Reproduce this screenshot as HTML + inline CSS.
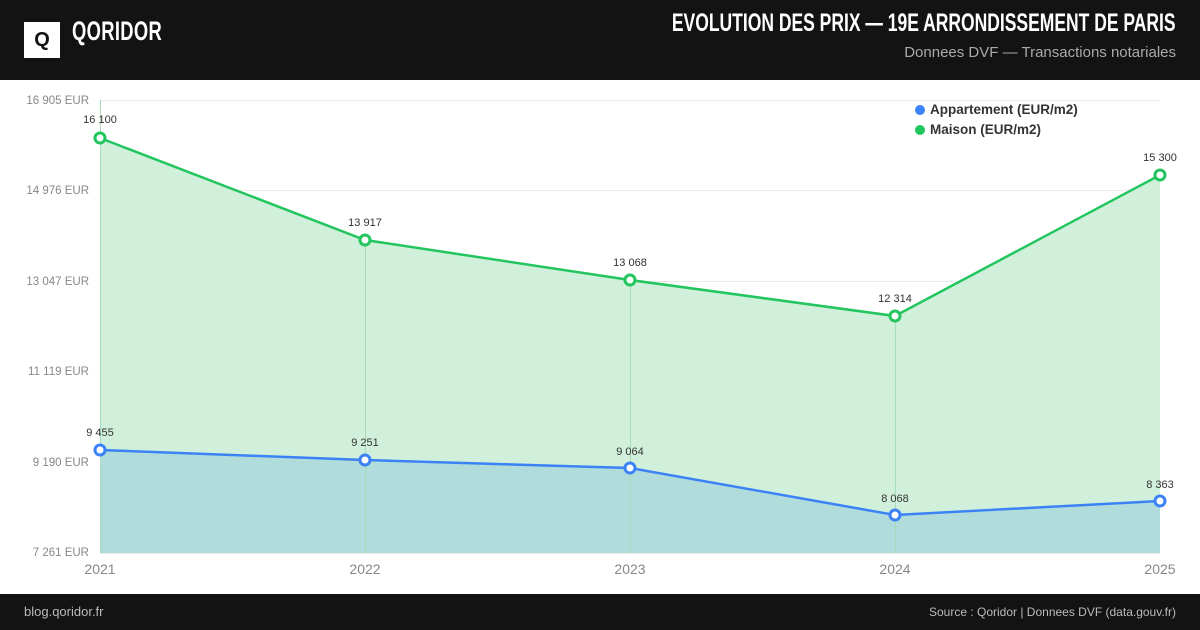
<!DOCTYPE html>
<html><head><meta charset="utf-8"><style>
body{margin:0;width:1200px;height:630px;background:#fff;font-family:"Liberation Sans",sans-serif;overflow:hidden;position:relative}
.hdr{position:absolute;left:0;top:0;width:1200px;height:80px;background:#131313}
.ftr{position:absolute;left:0;top:594px;width:1200px;height:36px;background:#131313;color:#bbb;font-size:13px}
</style></head><body>
<div class="hdr">
<div style="position:absolute;left:24px;top:22px;width:36px;height:36px;background:#fff"></div>
<div style="position:absolute;left:24px;top:22px;width:36px;height:36px;color:#131313;font-weight:bold;font-size:20px;line-height:36px;text-align:center">Q</div>
<div style="position:absolute;left:72px;top:16px;color:#fff;font-size:27px;font-weight:bold;transform:scaleX(0.68);transform-origin:left;letter-spacing:0.5px">QORIDOR</div>
<div style="position:absolute;right:24px;top:9px;color:#fff;font-size:25px;font-weight:bold;transform:scaleX(0.7);transform-origin:right;white-space:nowrap">EVOLUTION DES PRIX — 19E ARRONDISSEMENT DE PARIS</div>
<div style="position:absolute;right:24px;top:44px;color:#aaa;font-size:15px">Donnees DVF — Transactions notariales</div>
</div>
<svg width="1200" height="630" style="position:absolute;left:0;top:0" font-family="Liberation Sans, sans-serif">
<g stroke="#ebebeb" stroke-width="1">
<line x1="100" x2="1160" y1="100.5" y2="100.5"/><line x1="100" x2="1160" y1="190.5" y2="190.5"/><line x1="100" x2="1160" y1="281.5" y2="281.5"/><line x1="100" x2="1160" y1="372.5" y2="372.5"/><line x1="100" x2="1160" y1="462.5" y2="462.5"/><line x1="100" x2="1160" y1="553.5" y2="553.5"/>
</g>
<polygon fill="#d1f0dc" points="100,138 365,240 630,280 895,316 1160,175 1160,553 100,553"/>
<polygon fill="#b0dcdc" points="100,450 365,460 630,468 895,515 1160,501 1160,553 100,553"/>
<g stroke="#a8dcb8" stroke-width="1"><line x1="100.5" x2="100.5" y1="100" y2="553"/><line x1="365.5" x2="365.5" y1="240" y2="553"/><line x1="630.5" x2="630.5" y1="280" y2="553"/><line x1="895.5" x2="895.5" y1="316" y2="553"/></g>
<polyline fill="none" stroke="#22c55e" stroke-width="2.5" points="100,138 365,240 630,280 895,316 1160,175"/>
<polyline fill="none" stroke="#3b82f6" stroke-width="2.5" points="100,450 365,460 630,468 895,515 1160,501"/>
<g fill="#fff" stroke="#22c55e" stroke-width="3"><circle cx="100" cy="138" r="5"/><circle cx="365" cy="240" r="5"/><circle cx="630" cy="280" r="5"/><circle cx="895" cy="316" r="5"/><circle cx="1160" cy="175" r="5"/></g>
<g fill="#fff" stroke="#3b82f6" stroke-width="3"><circle cx="100" cy="450" r="5"/><circle cx="365" cy="460" r="5"/><circle cx="630" cy="468" r="5"/><circle cx="895" cy="515" r="5"/><circle cx="1160" cy="501" r="5"/></g>
<g font-size="11" fill="#333" text-anchor="middle">
<text x="100" y="123">16 100</text><text x="365" y="226">13 917</text><text x="630" y="266">13 068</text><text x="895" y="302">12 314</text><text x="1160" y="161">15 300</text>
<text x="100" y="436">9 455</text><text x="365" y="446">9 251</text><text x="630" y="455">9 064</text><text x="895" y="502">8 068</text><text x="1160" y="488">8 363</text>
</g>
<g font-size="11.5" fill="#888" text-anchor="end">
<text x="89" y="104">16 905 EUR</text><text x="89" y="194">14 976 EUR</text><text x="89" y="285">13 047 EUR</text><text x="89" y="375">11 119 EUR</text><text x="89" y="466">9 190 EUR</text><text x="89" y="556">7 261 EUR</text>
</g>
<g font-size="14" fill="#888" text-anchor="middle">
<text x="100" y="574">2021</text><text x="365" y="574">2022</text><text x="630" y="574">2023</text><text x="895" y="574">2024</text><text x="1160" y="574">2025</text>
</g>
<circle cx="920" cy="110" r="5" fill="#3b82f6"/><text x="930" y="114" font-size="13.5" font-weight="bold" fill="#333">Appartement (EUR/m2)</text>
<circle cx="920" cy="130" r="5" fill="#22c55e"/><text x="930" y="134" font-size="13.5" font-weight="bold" fill="#333">Maison (EUR/m2)</text>
</svg>
<div class="ftr"><span style="position:absolute;left:24px;top:10px">blog.qoridor.fr</span><span style="position:absolute;right:24px;top:11px;font-size:12px">Source : Qoridor | Donnees DVF (data.gouv.fr)</span></div>
</body></html>
